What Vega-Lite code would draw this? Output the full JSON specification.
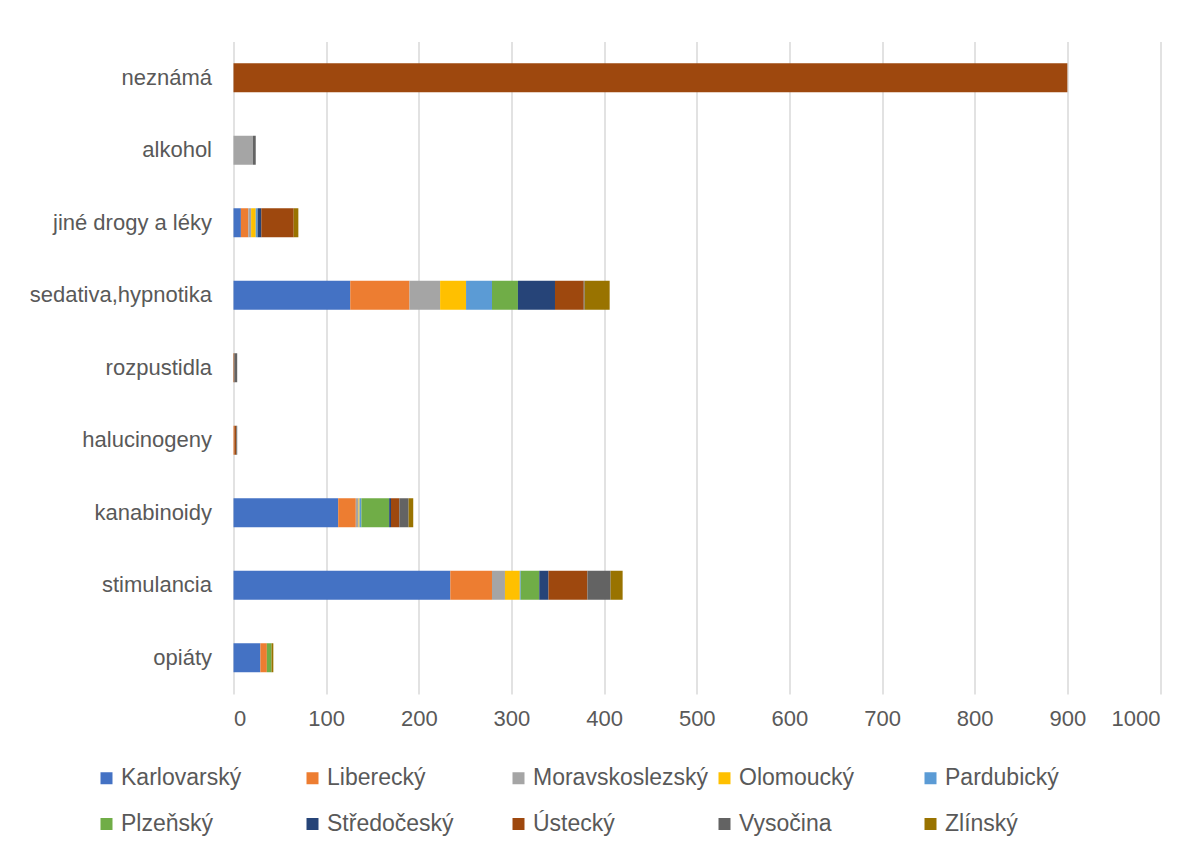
{
  "$schema": "https://vega.github.io/schema/vega-lite/v6.json",
  "width": 926.5,
  "height": 652.5,
  "autosize": {"type": "none"},
  "padding": {"left": 233.5, "top": 41.5, "right": 40, "bottom": 152},
  "background": "white",
  "config": {"view": {"stroke": null}, "font": "Liberation Sans"},
  "data": {
    "values": [
      {"drug": "neznámá", "region": "Ústecký", "i": 8, "value": 900},
      {"drug": "alkohol", "region": "Moravskoslezský", "i": 3, "value": 21},
      {"drug": "alkohol", "region": "Vysočina", "i": 9, "value": 3},
      {"drug": "jiné drogy a léky", "region": "Karlovarský", "i": 1, "value": 8},
      {"drug": "jiné drogy a léky", "region": "Liberecký", "i": 2, "value": 8},
      {"drug": "jiné drogy a léky", "region": "Moravskoslezský", "i": 3, "value": 3},
      {"drug": "jiné drogy a léky", "region": "Olomoucký", "i": 4, "value": 5},
      {"drug": "jiné drogy a léky", "region": "Pardubický", "i": 5, "value": 2},
      {"drug": "jiné drogy a léky", "region": "Středočeský", "i": 7, "value": 4},
      {"drug": "jiné drogy a léky", "region": "Ústecký", "i": 8, "value": 35},
      {"drug": "jiné drogy a léky", "region": "Zlínský", "i": 10, "value": 5},
      {"drug": "sedativa,hypnotika", "region": "Karlovarský", "i": 1, "value": 126},
      {"drug": "sedativa,hypnotika", "region": "Liberecký", "i": 2, "value": 64},
      {"drug": "sedativa,hypnotika", "region": "Moravskoslezský", "i": 3, "value": 33},
      {"drug": "sedativa,hypnotika", "region": "Olomoucký", "i": 4, "value": 28},
      {"drug": "sedativa,hypnotika", "region": "Pardubický", "i": 5, "value": 28},
      {"drug": "sedativa,hypnotika", "region": "Plzeňský", "i": 6, "value": 28},
      {"drug": "sedativa,hypnotika", "region": "Středočeský", "i": 7, "value": 40},
      {"drug": "sedativa,hypnotika", "region": "Ústecký", "i": 8, "value": 31},
      {"drug": "sedativa,hypnotika", "region": "Vysočina", "i": 9, "value": 1},
      {"drug": "sedativa,hypnotika", "region": "Zlínský", "i": 10, "value": 27},
      {"drug": "rozpustidla", "region": "Ústecký", "i": 8, "value": 1},
      {"drug": "rozpustidla", "region": "Vysočina", "i": 9, "value": 3},
      {"drug": "halucinogeny", "region": "Liberecký", "i": 2, "value": 1},
      {"drug": "halucinogeny", "region": "Ústecký", "i": 8, "value": 2},
      {"drug": "halucinogeny", "region": "Vysočina", "i": 9, "value": 1},
      {"drug": "kanabinoidy", "region": "Karlovarský", "i": 1, "value": 113},
      {"drug": "kanabinoidy", "region": "Liberecký", "i": 2, "value": 19},
      {"drug": "kanabinoidy", "region": "Moravskoslezský", "i": 3, "value": 3},
      {"drug": "kanabinoidy", "region": "Olomoucký", "i": 4, "value": 1},
      {"drug": "kanabinoidy", "region": "Pardubický", "i": 5, "value": 2},
      {"drug": "kanabinoidy", "region": "Plzeňský", "i": 6, "value": 30},
      {"drug": "kanabinoidy", "region": "Středočeský", "i": 7, "value": 2},
      {"drug": "kanabinoidy", "region": "Ústecký", "i": 8, "value": 9},
      {"drug": "kanabinoidy", "region": "Vysočina", "i": 9, "value": 10},
      {"drug": "kanabinoidy", "region": "Zlínský", "i": 10, "value": 5},
      {"drug": "stimulancia", "region": "Karlovarský", "i": 1, "value": 234},
      {"drug": "stimulancia", "region": "Liberecký", "i": 2, "value": 45},
      {"drug": "stimulancia", "region": "Moravskoslezský", "i": 3, "value": 14},
      {"drug": "stimulancia", "region": "Olomoucký", "i": 4, "value": 16},
      {"drug": "stimulancia", "region": "Pardubický", "i": 5, "value": 1},
      {"drug": "stimulancia", "region": "Plzeňský", "i": 6, "value": 20},
      {"drug": "stimulancia", "region": "Středočeský", "i": 7, "value": 10},
      {"drug": "stimulancia", "region": "Ústecký", "i": 8, "value": 42},
      {"drug": "stimulancia", "region": "Vysočina", "i": 9, "value": 25},
      {"drug": "stimulancia", "region": "Zlínský", "i": 10, "value": 13},
      {"drug": "opiáty", "region": "Karlovarský", "i": 1, "value": 29},
      {"drug": "opiáty", "region": "Liberecký", "i": 2, "value": 7},
      {"drug": "opiáty", "region": "Plzeňský", "i": 6, "value": 5},
      {"drug": "opiáty", "region": "Zlínský", "i": 10, "value": 2}
    ]
  },
  "mark": {"type": "bar"},
  "encoding": {
    "y": {
      "field": "drug",
      "type": "nominal",
      "sort": ["neznámá", "alkohol", "jiné drogy a léky", "sedativa,hypnotika", "rozpustidla", "halucinogeny", "kanabinoidy", "stimulancia", "opiáty"],
      "scale": {"paddingInner": 0.6, "paddingOuter": 0.3},
      "axis": {
        "title": null,
        "domain": false,
        "ticks": false,
        "grid": false,
        "labelFontSize": 22,
        "labelColor": "#595959",
        "labelPadding": 22,
        "labelLimit": 400
      }
    },
    "x": {
      "field": "value",
      "type": "quantitative",
      "stack": "zero",
      "scale": {"domain": [0, 1000], "nice": false},
      "axis": {
        "title": null,
        "values": [0, 100, 200, 300, 400, 500, 600, 700, 800, 900, 1000],
        "format": "d",
        "domain": false,
        "ticks": false,
        "gridColor": "#D9D9D9",
        "gridWidth": 1.5,
        "labelFontSize": 22,
        "labelColor": "#595959",
        "labelPadding": 14
      }
    },
    "color": {
      "field": "region",
      "type": "nominal",
      "scale": {
        "domain": ["Karlovarský", "Liberecký", "Moravskoslezský", "Olomoucký", "Pardubický", "Plzeňský", "Středočeský", "Ústecký", "Vysočina", "Zlínský"],
        "range": ["#4472C4", "#ED7D31", "#A5A5A5", "#FFC000", "#5B9BD5", "#70AD47", "#264478", "#9E480E", "#636363", "#997300"]
      },
      "legend": {
        "title": null,
        "orient": "none",
        "legendX": -138.5,
        "legendY": 725,
        "direction": "horizontal",
        "columns": 5,
        "gridAlign": "all",
        "symbolType": "square",
        "symbolSize": 144,
        "symbolStrokeWidth": 0,
        "labelFontSize": 23,
        "labelColor": "#595959",
        "labelOffset": 3,
        "columnPadding": 4,
        "rowPadding": 22,
        "labelLimit": 300
      }
    },
    "order": {"field": "i", "type": "quantitative"}
  }
}
